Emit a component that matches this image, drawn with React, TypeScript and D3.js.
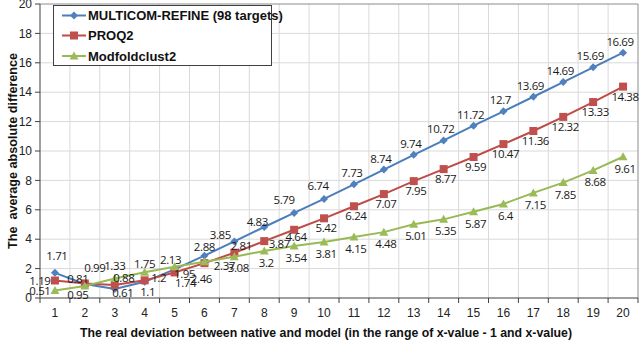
import React from "react";
import * as d3 from "d3";

const categories = [1, 2, 3, 4, 5, 6, 7, 8, 9, 10, 11, 12, 13, 14, 15, 16, 17, 18, 19, 20];
const multicom = [1.71, 0.95, 0.61, 1.1, 1.95, 2.88, 3.85, 4.83, 5.79, 6.74, 7.73, 8.74, 9.74, 10.72, 11.72, 12.7, 13.69, 14.69, 15.69, 16.69];
const proq2 = [1.19, 0.99, 0.88, 1.2, 1.74, 2.37, 3.08, 3.87, 4.64, 5.42, 6.24, 7.07, 7.95, 8.77, 9.59, 10.47, 11.36, 12.32, 13.33, 14.38];
const modfold = [0.51, 0.81, 1.33, 1.75, 2.13, 2.46, 2.81, 3.2, 3.54, 3.81, 4.15, 4.48, 5.01, 5.35, 5.87, 6.4, 7.15, 7.85, 8.68, 9.61];
const yTicks = [0, 2, 4, 6, 8, 10, 12, 14, 16, 18, 20];
const seriesNames = ["MULTICOM-REFINE (98 targets)", "PROQ2", "Modfoldclust2"];

// label placement (dx, dy from the marker), per point
const blueOff: [number, number][] = [[2, -17], [-7, 11], [8, 4], [3, 10], [10, 5], [0, -9], [-14, -6], [-7, -5], [-10, -13], [-6, -13], [-2, -11]];
const redOff: [number, number][] = [[-15, 0], [10, -15], [9, -7], [14, -2], [11, 11], [20, 3], [4, 15], [15, 3], [2, 7]];
const greenOff: [number, number][] = [[-15, 0], [-7, -7], [0, -12], [0, -8], [-4, -7], [-3, 17], [7, -11]];

const W = 640, H = 344;
const left = 40, right = 638, top = 4, bottom = 298;

export default function App() {
  const x = d3.scaleBand<number>().domain(categories).range([left, right]).padding(0);
  const y = d3.scaleLinear().domain([0, 20]).range([bottom, top]);
  const cx = (c: number) => (x(c) as number) + x.bandwidth() / 2;

  const series = [
    { name: seriesNames[0], vals: multicom, line: "#4A7EBB", fill: "#4F81BD", shape: "diamond", off: blueOff, def: [-3, -11] },
    { name: seriesNames[1], vals: proq2, line: "#BE4B48", fill: "#C0504D", shape: "square", off: redOff, def: [2, 10] },
    { name: seriesNames[2], vals: modfold, line: "#98B954", fill: "#9BBB59", shape: "triangle", off: greenOff, def: [2, 12] },
  ];

  const marker = (shape: string, px: number, py: number, fill: string, key: string) => {
    if (shape === "diamond") {
      const s = 4;
      return <path key={key} d={`M${px},${py - s}L${px + s},${py}L${px},${py + s}L${px - s},${py}Z`} fill={fill} />;
    }
    if (shape === "square") {
      return <rect key={key} x={px - 4} y={py - 4} width={8} height={8} fill={fill} />;
    }
    return <path key={key} d={`M${px},${py - 4.5}L${px + 4.5},${py + 3.5}L${px - 4.5},${py + 3.5}Z`} fill={fill} />;
  };

  const boundaries = categories.map((c) => x(c) as number).concat([right]);

  return (
    <svg width={W} height={H} style={{ position: "absolute", left: 0, top: 0, fontFamily: "Arial, 'Liberation Sans', sans-serif" }}>
      <rect x={0} y={0} width={W} height={H} fill="#fff" />
      {/* gridlines */}
      {yTicks.filter((t) => t > 0 && t < 20).map((t) => (
        <line key={"gy" + t} x1={left} x2={right} y1={y(t)} y2={y(t)} stroke="#D9D9D9" strokeWidth={1} />
      ))}
      {boundaries.slice(1, -1).map((b, i) => (
        <line key={"gx" + i} x1={b} x2={b} y1={top} y2={bottom} stroke="#D9D9D9" strokeWidth={1} />
      ))}
      {/* plot border */}
      <line x1={left} x2={right} y1={top} y2={top} stroke="#8C8C8C" />
      <line x1={right} x2={right} y1={top} y2={bottom} stroke="#8C8C8C" />
      {/* axes */}
      <line x1={left} x2={left} y1={top} y2={bottom} stroke="#404040" strokeWidth={1} />
      <line x1={left} x2={right} y1={bottom} y2={bottom} stroke="#404040" strokeWidth={1} />
      {yTicks.map((t) => (
        <g key={"yt" + t}>
          <line x1={left - 5} x2={left} y1={y(t)} y2={y(t)} stroke="#404040" />
          <text x={32} y={y(t)} dy="0.35em" textAnchor="end" fontSize={12} fill="#222">{t}</text>
        </g>
      ))}
      {boundaries.map((b, i) => (
        <line key={"xt" + i} x1={b} x2={b} y1={bottom} y2={bottom + 5} stroke="#404040" />
      ))}
      {categories.map((c) => (
        <text key={"xl" + c} x={cx(c)} y={313} dy="0.35em" textAnchor="middle" fontSize={12} fill="#222">{c}</text>
      ))}
      {/* series */}
      {series.map((s, si) => {
        const line = d3.line<number>().x((_, i) => cx(categories[i])).y((v) => y(v));
        return (
          <g key={"s" + si}>
            <path d={line(s.vals) || ""} fill="none" stroke={s.line} strokeWidth={2} />
            {s.vals.map((v, i) => marker(s.shape, cx(categories[i]), y(v), s.fill, "m" + si + "-" + i))}
          </g>
        );
      })}
      {series.map((s, si) => (
        <g key={"l" + si}>
          {s.vals.map((v, i) => {
            const o = s.off[i] || s.def;
            return (
              <text key={"lb" + si + "-" + i} x={cx(categories[i]) + o[0]} y={y(v) + o[1]} dy="0.35em" textAnchor="middle"
                fontSize={11.5} fill="#1a1a1a" fontFamily="'Open Sans', 'Liberation Sans', sans-serif" style={{ letterSpacing: "-0.4px" }}>{v}</text>
            );
          })}
        </g>
      ))}
      {/* legend */}
      <rect x={53.5} y={5.5} width={218} height={60} fill="#fff" stroke="#404040" strokeWidth={1} />
      {series.map((s, si) => {
        const ly = [15.5, 35.5, 56][si];
        return (
          <g key={"lg" + si}>
            <line x1={62} x2={86} y1={ly} y2={ly} stroke={s.line} strokeWidth={2} />
            {marker(s.shape, 74, ly, s.fill, "lgm" + si)}
            <text x={88} y={ly} dy="0.35em" fontSize={13} fontWeight="bold" fill="#111">{s.name}</text>
          </g>
        );
      })}
      {/* axis titles */}
      <text x={326} y={333} dy="0.35em" textAnchor="middle" fontSize={12.3} fontWeight="bold" fill="#111">
        The real deviation between native and model (in the range of x-value - 1 and x-value)
      </text>
      <text transform={`translate(13,${(top + bottom) / 2}) rotate(-90)`} textAnchor="middle" dy="0.35em" fontSize={12.6}
        fontWeight="bold" fill="#111" style={{ whiteSpace: "pre" }}>
        {"The  average absolute difference"}
      </text>
    </svg>
  );
}
